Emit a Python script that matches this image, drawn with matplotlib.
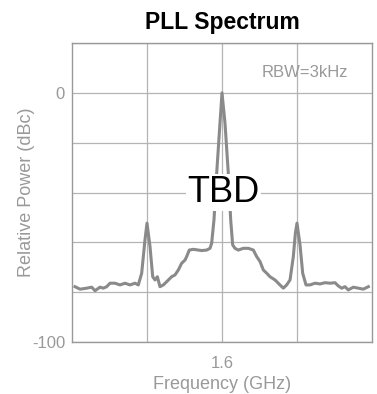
import matplotlib
matplotlib.use("Agg")
import matplotlib.pyplot as plt

# spectrum trace, frequency in GHz, power in dBc
freq_ghz = [
    1.404, 1.4107, 1.4196, 1.4262, 1.4307, 1.4373, 1.4418, 1.4462, 1.4507,
    1.4573, 1.464, 1.4707, 1.4773, 1.484, 1.4884, 1.4929, 1.4973, 1.5,
    1.504, 1.5076, 1.5107, 1.5138, 1.5173, 1.5218, 1.5262, 1.5329, 1.5373,
    1.5418, 1.5462, 1.5507, 1.5529, 1.5564, 1.5618, 1.5684, 1.5729, 1.5796,
    1.584, 1.5862, 1.5893, 1.5929, 1.5973, 1.6,
    1.604, 1.6084, 1.6116, 1.6142, 1.6173, 1.6218, 1.6284, 1.6351, 1.6418,
    1.6462, 1.6507, 1.6551, 1.6596, 1.664, 1.6707, 1.6773, 1.6818, 1.6862,
    1.6907, 1.6951, 1.6978, 1.7, 1.704, 1.7076, 1.712, 1.7173, 1.724,
    1.7307, 1.7373, 1.744, 1.7507, 1.7551, 1.7596, 1.764, 1.7684, 1.7751,
    1.7818, 1.7884, 1.7951,
]
power_dbc = [
    -77.8, -78.8, -78.4, -78.0, -79.4, -78.0, -78.4, -77.8, -76.4,
    -76.4, -77.1, -76.4, -77.1, -76.4, -77.1, -72.4, -59.0, -52.3,
    -61.7, -73.8, -75.1, -73.8, -77.8, -77.1, -75.8, -73.8, -73.1,
    -71.1, -68.4, -67.1, -65.7, -63.1, -62.8, -63.1, -63.3, -63.1,
    -62.4, -60.4, -51.0, -32.3, -12.2, 0.0,
    -12.2, -32.3, -51.0, -61.0, -62.4, -63.1, -62.4, -62.4, -63.1,
    -65.7, -67.7, -71.1, -72.4, -73.8, -75.1, -77.1, -78.4, -77.1,
    -75.1, -65.7, -56.4, -52.3, -61.0, -72.4, -77.1, -77.1, -76.4,
    -76.7, -76.2, -76.4, -76.2, -77.5, -78.4, -77.8, -79.1, -78.0,
    -78.4, -78.8, -77.8,
]

x_ticks = [1.5, 1.6, 1.7]
x_tick_labels = ["", "1.6", ""]
y_ticks = [-100, -80, -60, -40, -20, 0, 20]
y_tick_labels = ["-100", "", "", "", "", "0", ""]

plt.rcParams["font.family"] = ["Liberation Sans", "DejaVu Sans"]

GREY_TEXT = "#999999"
GREY_LINE = "#8a8a8a"
GREY_GRID = "#b4b4b4"

fig = plt.figure(figsize=(3.77, 3.94), dpi=100)
ax = fig.add_axes([72 / 377, 52 / 394, 300 / 377, 299 / 394])

ax.plot(freq_ghz, power_dbc, color=GREY_LINE, linewidth=2.2, zorder=2,
        solid_joinstyle="round")

ax.set_xlim(1.4, 1.8)
ax.set_ylim(-100, 20)
ax.set_xticks(x_ticks)
ax.set_xticklabels(x_tick_labels)
ax.set_yticks(y_ticks)
ax.set_yticklabels(y_tick_labels)
ax.tick_params(axis="x", length=0, pad=10, labelsize=12, labelcolor=GREY_TEXT)
ax.tick_params(axis="y", length=0, pad=5, labelsize=12, labelcolor=GREY_TEXT)
ax.grid(True, color=GREY_GRID, linewidth=0.9, zorder=1)
ax.set_axisbelow(True)
for spine in ax.spines.values():
    spine.set_color(GREY_TEXT)
    spine.set_linewidth(1.0)

ax.set_xlabel("Frequency (GHz)", fontsize=13, color=GREY_TEXT, labelpad=4)
ax.set_ylabel("Relative Power (dBc)", fontsize=13, color=GREY_TEXT, labelpad=-2)
ax.set_title("PLL Spectrum", fontsize=16.5, fontweight="bold", pad=10)

ax.text(0.777, 0.903, "RBW=3kHz", transform=ax.transAxes, ha="center",
        va="center", fontsize=12, color=GREY_TEXT)
ax.text(0.505, 0.50, "TBD", transform=ax.transAxes, ha="center", va="center",
        fontsize=26, color="black", zorder=5,
        bbox=dict(facecolor="white", edgecolor="none", pad=1))

fig.savefig("out.png", dpi=100)
